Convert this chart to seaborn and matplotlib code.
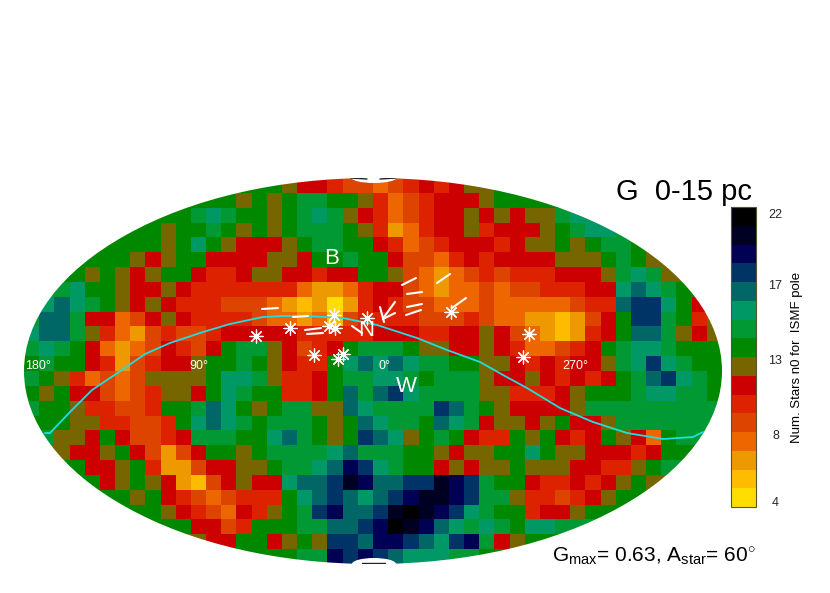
import numpy as np
import pandas as pd
import matplotlib
matplotlib.use("Agg")
import matplotlib.pyplot as plt
from matplotlib.colors import ListedColormap
from matplotlib.patches import Ellipse
import seaborn as sns

# colour bands, low (yellow) to high (black)
band_colors = ["#FFDD00", "#FFBB00", "#EE9900", "#EE6600", "#DD4400", "#DD2200", "#CC0000", "#776600",
               "#008800", "#009933", "#009966", "#006666", "#003366", "#000055", "#000022", "#000000"]
cbar_levels = [0.77, 4.39, 8.39, 12.39, 16.13]
cbar_labels = ["4", "8", "13", "17", "22"]

# binned sky map (band index 1-16, 0 = off the map)
sky_rows = [
 [0]*14+[9,9,9,8,7,7,6,5,5,4,5,6,7,6,7,8,8,9]+[0]*14,
 [0]*11+[9,9,9,8,9,8,9,10,10,9,9,8,6,4,5,6,7,7,7,8,9,9,9,9]+[0]*11,
 [0]*8+[9,9,9,10,11,10,9,9,8,9,10,11,10,8,7,6,4,5,6,7,7,8,7,8,7,8,8,10,11,11]+[0]*8,
 [0]*6+[9,9,9,8,9,9,10,9,8,9,8,9,10,10,10,9,8,6,3,4,6,7,7,8,6,7,7,7,8,9,10,11,11,10]+[0]*6,
 [0]*4+[9,9,9,9,9,8,9,11,9,8,7,7,7,8,9,10,10,9,9,7,6,4,5,6,7,7,7,6,7,8,8,9,8,9,10,10,9,9]+[0]*4,
 [0]*3+[9,9,9,9,8,7,8,9,9,7,7,7,7,8,8,7,9,9,10,9,9,7,5,5,4,6,7,6,7,7,7,7,8,8,8,9,10,9,8,8]+[0]*3,
 [0]*2+[9,9,8,9,8,7,8,9,9,7,6,6,7,8,8,7,7,6,7,7,9,9,8,5,4,3,4,5,6,5,6,6,6,7,7,7,8,10,11,10,8,8]+[0]*2,
 [0]+[10,10,11,9,9,8,7,7,8,7,6,6,6,6,6,6,6,4,3,3,4,6,7,7,5,4,3,4,4,5,4,5,5,6,6,6,7,7,11,12,11,10,9,9]+[0],
 [0]+[11,12,11,10,9,8,7,8,7,6,6,6,5,5,5,4,3,2,3,1,3,6,7,6,5,5,4,4,4,5,4,4,4,4,4,5,6,6,12,13,13,11,9,7]+[0],
 [10,12,12,10,7,7,4,5,7,8,7,6,6,6,6,5,4,4,3,4,2,5,6,6,6,6,5,5,5,6,5,4,4,3,3,2,3,5,7,9,13,13,10,9,6,8],
 [11,12,12,10,8,6,4,3,5,6,5,5,6,7,7,7,7,7,6,6,6,6,6,7,7,7,6,6,7,7,8,7,5,4,3,2,3,6,7,9,12,12,10,8,7,8],
 [10,11,10,9,7,4,3,4,5,7,6,5,7,9,10,10,8,7,5,6,7,9,10,10,10,9,8,8,7,7,8,7,6,4,4,5,6,7,9,10,11,11,10,9,9,9],
 [9,10,9,9,7,6,3,5,6,7,7,8,9,9,10,9,8,7,6,6,9,11,12,11,12,11,10,10,9,9,8,8,7,6,7,6,7,7,8,10,11,13,11,10,9,9],
 [10,9,8,6,4,5,4,5,8,8,8,8,9,11,11,10,8,6,6,7,9,10,10,11,11,10,9,10,10,10,8,7,7,8,7,6,7,6,7,9,10,12,13,11,10,9],
 [9,8,9,7,7,5,4,5,6,8,8,7,9,11,10,9,9,6,6,7,9,12,10,12,13,11,10,10,10,10,8,8,6,6,6,7,8,9,9,9,10,11,11,10,10,9],
 [10,9,9,8,6,6,5,5,6,9,9,10,12,11,9,8,9,10,10,8,8,12,11,10,10,10,10,13,12,10,9,8,7,7,7,7,8,10,10,10,10,10,10,10,10,10],
 [9,9,9,8,8,6,6,5,5,6,9,11,12,11,10,9,10,10,10,9,8,9,12,11,10,10,9,12,11,10,7,8,8,7,8,9,7,7,8,10,10,10,10,10,10,10],
 [0,10,8,8,7,9,7,5,5,6,7,10,10,10,9,9,11,12,10,9,8,9,13,12,11,8,9,10,9,7,6,6,9,8,9,7,6,7,9,8,7,4,9,10,10,0],
 [0,8,8,7,7,8,9,7,5,3,5,7,9,9,8,9,10,10,10,10,11,12,10,10,10,9,9,8,7,8,8,9,9,11,9,8,8,7,7,7,6,7,9,9,9,0],
 [0,0,9,9,7,7,8,9,6,3,3,5,7,7,8,8,9,10,10,11,12,14,13,11,10,9,9,7,8,7,8,8,9,8,8,8,7,7,6,6,8,9,10,10,0,0],
 [0,0,0,9,9,7,8,9,8,7,3,2,5,7,8,7,7,11,12,12,13,15,14,12,12,13,13,15,14,13,10,9,9,7,6,6,7,6,7,8,9,8,8,0,0,0],
 [0,0,0,0,9,9,9,8,9,7,6,5,4,5,6,6,6,9,11,12,13,12,11,12,13,14,15,15,14,13,10,10,8,6,6,5,6,7,8,9,9,9,0,0,0,0],
 [0]*6+[9,9,9,8,7,6,5,4,7,6,8,9,10,13,14,12,12,13,15,16,15,14,13,11,10,9,9,6,7,7,8,9,9,9]+[0]*6,
 [0]*8+[9,9,9,7,7,5,6,9,9,9,10,10,12,12,13,14,16,15,14,12,11,10,11,10,9,11,11,10,10,10]+[0]*8,
 [0]*11+[8,7,7,9,9,7,8,9,8,13,13,12,14,14,13,12,11,13,14,10,7,8,9,9]+[0]*11,
 [0]*14+[9,9,9,9,10,10,14,13,14,13,12,11,11,11,10,10,9,9]+[0]*14,
]

# map-plane positions (x to the right, y down the map)
star_x = [256, 290, 314, 334, 329, 335, 343, 338, 367, 451, 529, 523]
star_y = [336, 328, 355, 315, 326, 328, 354, 359, 318, 312, 334, 357]

seg_x0 = [262, 293, 305, 307, 352, 380, 384, 383, 402, 407, 407, 406, 437, 452]
seg_y0 = [309, 317, 330, 334, 326, 307, 317, 319, 285, 294, 307, 315, 283, 308]
seg_x1 = [278, 308, 321, 323, 362, 384, 395, 395, 416, 422, 422, 421, 450, 466]
seg_y1 = [308, 316, 328, 333, 333, 322, 302, 313, 278, 292, 304, 310, 274, 298]

ribbon_x = [45, 50, 70, 92, 122, 145, 170, 203, 230, 263, 283, 307, 343, 377, 417, 447, 480,
            503, 527, 560, 593, 627, 663, 693, 703]
ribbon_y = [433, 433, 412, 390, 370, 354, 343, 332, 324, 317, 316, 316, 318, 325, 338, 350, 362,
            375, 388, 408, 422, 433, 439, 437, 432]

pole_x0 = [351, 380, 362]
pole_y0 = [178, 179, 563]
pole_x1 = [367, 396, 385]
pole_y1 = [179, 178, 563]

map_labels = [("180°", 38, 366), ("90°", 199, 366), ("0°", 384, 366), ("270°", 575, 366)]
region_labels = [("B", 332, 258), ("N", 366, 331), ("W", 406, 386)]

sns.set_theme(style="white")
plt.rcParams["font.family"] = ["Liberation Sans", "DejaVu Sans"]
plt.rcParams["mathtext.fontset"] = "custom"
plt.rcParams["mathtext.rm"] = "Liberation Sans"
plt.rcParams["mathtext.it"] = "Liberation Sans"
plt.rcParams["mathtext.default"] = "rm"

W, H = 830, 593
fig = plt.figure(figsize=(W / 100, H / 100), dpi=100, facecolor="white")
L, R, T, B = 24, 722, 178, 564
ax = fig.add_axes([L / W, 1 - B / H, (R - L) / W, (B - T) / H])
cax = fig.add_axes([731 / W, 1 - 507 / H, 25 / W, 300 / H])

# off-map cells take the row's edge value; the ellipse clip below trims them
grid = pd.DataFrame(sky_rows, dtype=float).replace(0, np.nan).ffill(axis=1).bfill(axis=1)
sns.heatmap(grid, ax=ax, cbar_ax=cax, cmap=ListedColormap(band_colors),
            vmin=0.5, vmax=16.5, xticklabels=False, yticklabels=False, square=False,
            linewidths=0)
ax.set_axis_off()
clip = Ellipse((grid.shape[1] / 2, grid.shape[0] / 2), grid.shape[1], grid.shape[0],
               transform=ax.transData, facecolor="none", edgecolor="none")
ax.add_patch(clip)
ax.collections[0].set_clip_path(clip)

cbar = ax.collections[0].colorbar
cbar.set_ticks(cbar_levels, labels=cbar_labels)
cbar.ax.tick_params(length=2, width=0.5, direction="in", right=True, labelsize=9, pad=14, color="#333333")
for t in cbar.ax.get_yticklabels():
    t.set_ha("center")
cbar.outline.set_visible(True)
cbar.outline.set_edgecolor("#555533")
cbar.outline.set_linewidth(0.8)
fig.text(797 / W, 1 - 357 / H, "Num. Stars n0 for  ISMF pole", rotation=90, ha="center",
         va="center", fontsize=9.5, color="black")

# overlay in map-plane units
over = fig.add_axes(ax.get_position(), facecolor="none")

over.add_patch(Ellipse((374, 177), 47, 12, facecolor="white", edgecolor="none", clip_on=False, zorder=5))
over.add_patch(Ellipse((374, 564), 44, 12, facecolor="white", edgecolor="none", clip_on=False, zorder=5))

poles = pd.DataFrame({
    "x": pole_x0 + pole_x1,
    "y": pole_y0 + pole_y1,
    "seg": list(range(len(pole_x0))) * 2,
})
sns.lineplot(data=poles, x="x", y="y", units="seg", estimator=None, sort=False, color="#222222",
             linewidth=1.0, ax=over, legend=False, zorder=5.5)
sns.lineplot(x=ribbon_x, y=ribbon_y, sort=False, estimator=None, color="#22DDDD", linewidth=1.3,
             ax=over, legend=False, zorder=6)
segs = pd.DataFrame({
    "x": seg_x0 + seg_x1,
    "y": seg_y0 + seg_y1,
    "seg": list(range(len(seg_x0))) * 2,
})
sns.lineplot(data=segs, x="x", y="y", units="seg", estimator=None, sort=False, color="white",
             linewidth=1.5, ax=over, legend=False, zorder=7)
sns.scatterplot(x=star_x, y=star_y, marker=(8, 2, 0), s=90, color="white", linewidth=0.9,
                ax=over, legend=False, zorder=8)
over.set_xlim(L, R)
over.set_ylim(B, T)
over.set_axis_off()

for s, x, y in map_labels:
    over.text(x, y, s, color="white", fontsize=9, ha="center", va="center", zorder=9)
for s, x, y in region_labels:
    over.text(x, y, s, color="white", fontsize=16, ha="center", va="center", zorder=9)

fig.text(616 / W, 1 - 200 / H, "G  0-15 pc", fontsize=21, color="black", ha="left", va="baseline")
fig.text(552 / W, 1 - 562 / H, r"G$_{\mathrm{max}}$= 0.63, A$_{\mathrm{star}}$= 60$^{\circ}$",
         fontsize=15, color="black", ha="left", va="baseline")

fig.savefig("out.png", dpi=100, facecolor="white")
